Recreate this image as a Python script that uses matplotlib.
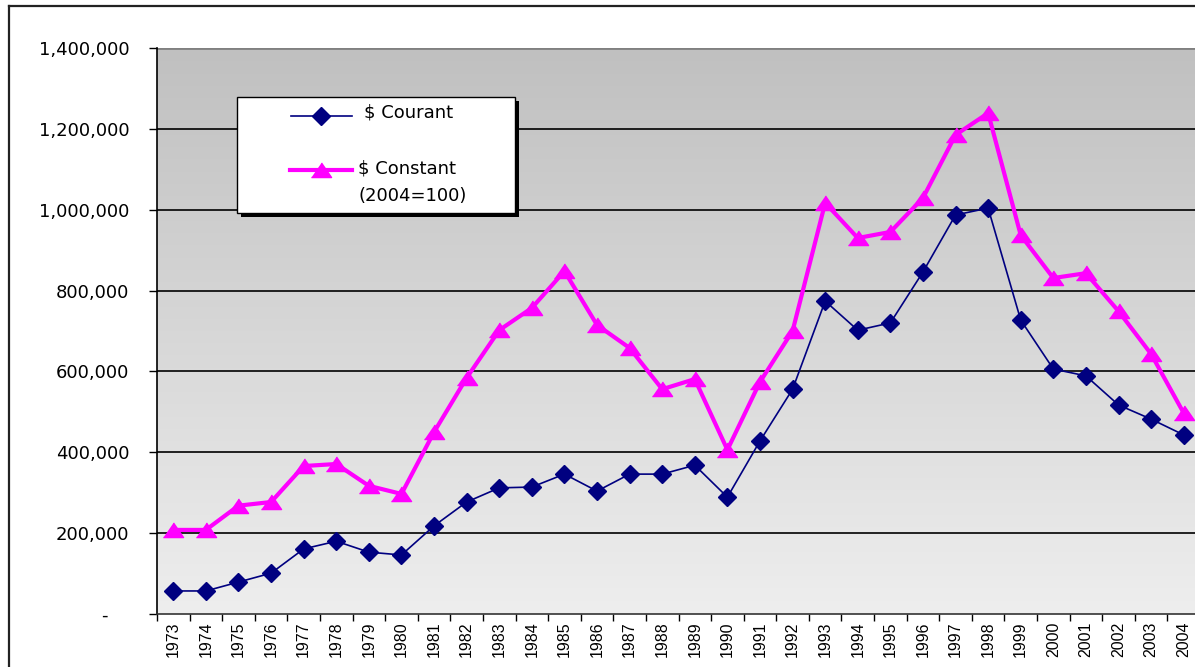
import numpy as np
import matplotlib
matplotlib.use("Agg")
import matplotlib.pyplot as plt
from matplotlib.lines import Line2D
from matplotlib.patches import Rectangle
from matplotlib.transforms import ScaledTranslation

plt.rcParams['font.family'] = ['DejaVu Sans']

years = list(range(1973, 2005))
courant = [57000, 57000, 79000, 101000, 161000, 180000, 153000, 146000,
           218000, 277000, 312000, 314000, 346000, 304000, 346000, 346000,
           368000, 289000, 428000, 556000, 774000, 702000, 720000, 846000,
           987000, 1004000, 727000, 606000, 589000, 517000, 482000, 443000]
constant = [208000, 208000, 268000, 277000, 366000, 371000, 317000, 297000,
            450000, 584000, 702000, 757000, 848000, 715000, 658000, 556000,
            581000, 406000, 574000, 700000, 1017000, 930000, 945000, 1029000,
            1185000, 1239000, 937000, 831000, 843000, 749000, 643000, 497000]
label_courant = "\\$ Courant"
label_constant = "\\$ Constant\n(2004=100)"

navy = "#000080"
magenta = "#ff00ff"
tri = [(-1, -0.7), (1, -0.7), (0, 0.75)]

W, H = 1195, 667
fig = plt.figure(figsize=(W / 100, H / 100), dpi=100)
fig.patch.set_facecolor("white")
ax = fig.add_axes([157 / W, (H - 614) / H, (1200 - 157) / W, (614 - 48) / H])

# gradient background
grad = np.linspace(0, 1, 256).reshape(-1, 1)
cmap = matplotlib.colors.LinearSegmentedColormap.from_list("g", ["#c0c0c0", "#eeeeee"])
ax.imshow(grad, cmap=cmap, aspect="auto", extent=[0, 1, 0, 1],
          transform=ax.transAxes, zorder=0)

x = np.arange(len(years)) + 0.5
ax.plot(x, courant, color=navy, lw=1.2, marker="D", ms=8.8,
        mec=navy, mfc=navy, zorder=4, clip_on=False)
ax.plot(x, constant, color=magenta, lw=3, marker=tri, ms=14.5,
        mec=magenta, mfc=magenta, zorder=3, clip_on=False)

ax.set_xlim(0, len(years))
ax.set_ylim(0, 1400000)

yt = np.arange(0, 1400001, 200000)
ax.set_yticks(yt)
ax.set_yticklabels(["-" if v == 0 else f"{v:,}" for v in yt], fontsize=13)
for v in yt[1:-1]:
    ax.axhline(v, color="black", lw=1.2, zorder=1)
ax.axhline(1400000, color="#808080", lw=2, zorder=1)
ax.tick_params(axis="y", length=6, width=1, pad=14, color="black")

ax.set_xticks(np.arange(len(years) + 1))
ax.set_xticklabels([])
ax.set_xticks(x, minor=True)
ax.set_xticklabels([str(y) for y in years], minor=True, rotation=90,
                   fontsize=11.5, va="top", ha="center", family="Liberation Sans")
ax.tick_params(axis="x", which="major", length=5, width=1, color="black")
ax.tick_params(axis="x", which="minor", length=0, pad=5.5)

for s in ["top", "right"]:
    ax.spines[s].set_visible(False)
ax.spines["left"].set_color("black")
ax.spines["left"].set_linewidth(1.2)
ax.spines["bottom"].set_color("#333333")
ax.spines["bottom"].set_linewidth(1.2)

fig.canvas.draw()
zero_lbl = ax.get_yticklabels()[0]
zero_lbl.set_transform(zero_lbl.get_transform() + ScaledTranslation(-0.22, 0, fig.dpi_scale_trans))

# legend drawn by hand to match the wide box
def px(xp, yp):
    return xp / W, 1 - yp / H

lx0, ly0, lx1, ly1 = 237, 97, 515, 213
fig.add_artist(Rectangle(px(lx0 + 4, ly1 + 4), (lx1 - lx0) / W, (ly1 - ly0) / H,
                         transform=fig.transFigure, facecolor="black",
                         edgecolor="none", zorder=5))
fig.add_artist(Rectangle(px(lx0, ly1), (lx1 - lx0) / W, (ly1 - ly0) / H,
                         transform=fig.transFigure, facecolor="white",
                         edgecolor="black", lw=1, zorder=6))
fig.add_artist(Line2D([291 / W, 352 / W], [1 - 116 / H] * 2, color=navy, lw=1.2, zorder=7))
fig.add_artist(Line2D([321 / W], [1 - 116 / H], color=navy, marker="D", ms=8.8,
                      lw=0, zorder=8))
fig.add_artist(Line2D([290 / W, 352 / W], [1 - 170 / H] * 2, color=magenta, lw=3, zorder=7))
fig.add_artist(Line2D([321 / W], [1 - 170 / H], color=magenta, marker=tri, ms=14.5,
                      lw=0, zorder=8))
fig.text(364 / W, 1 - 113 / H, label_courant, fontsize=13, va="center", ha="left", zorder=9)
fig.text(358 / W, 1 - 182 / H, label_constant, fontsize=13, va="center", ha="left",
         linespacing=1.65, zorder=9)

# outer chart border (top and left edges visible)
fig.add_artist(Line2D([9 / W, 1.0], [1 - 6 / H] * 2, color="#222222", lw=1.6))
fig.add_artist(Line2D([9 / W, 9 / W], [0, 1 - 6 / H], color="#222222", lw=1.6))

fig.savefig("out.png", dpi=100)
